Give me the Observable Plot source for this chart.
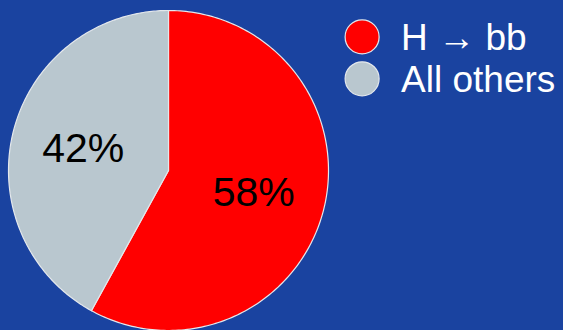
<!DOCTYPE html>
<html><head><meta charset="utf-8">
<script src="https://cdn.jsdelivr.net/npm/d3@7"></script>
<script src="https://cdn.jsdelivr.net/npm/@observablehq/plot@0.6"></script>
<style>
html,body{margin:0;padding:0;background:#1a43a0;overflow:hidden;}
</style></head><body><div id="chart"></div>
<script>
const categories = ["H \u2192 bb", "All others"];
const shares = [58, 42];
const labels = ["58%", "42%"];
const colors = ["#ff0000", "#b9c7cf"];

const arcs = d3.pie().sort(null).startAngle(0).endAngle(2 * Math.PI)(shares);
const poly = [];
arcs.forEach((a, i) => {
  poly.push({cat: categories[i], x: 0, y: 0});
  const n = 200;
  for (let k = 0; k <= n; k++) {
    const t = a.startAngle + (a.endAngle - a.startAngle) * k / n;
    poly.push({cat: categories[i], x: Math.sin(t), y: Math.cos(t)});
  }
});
const lab = arcs.map((a, i) => {
  const m = (a.startAngle + a.endAngle) / 2;
  return {label: labels[i], x: 0.55 * Math.sin(m), y: 0.55 * Math.cos(m)};
});
const leg = categories.map((c, i) => ({cat: c, x: 1.21, y: 0.835 - i * 0.262}));

const chart = Plot.plot({
  width: 563, height: 330,
  margin: 0,
  style: {background: "transparent", fontFamily: "Liberation Sans, Arial, sans-serif"},
  x: {domain: [-1, 1], range: [8, 328], axis: null},
  y: {domain: [-1, 1], range: [330, 10], axis: null},
  color: {domain: categories, range: colors},
  marks: [
    Plot.line(poly, {x: "x", y: "y", z: "cat", fill: "cat", stroke: "#e4e8ec", strokeWidth: 1.2, curve: "linear-closed"}),
    Plot.text(lab, {x: "x", y: "y", text: "label", fontSize: 41, fill: "black"}),
    Plot.dot(leg, {x: "x", y: "y", r: 17, fill: "cat", stroke: "#e4e8ec", strokeWidth: 1.2}),
    Plot.text(leg, {x: "x", y: "y", text: "cat", dx: 39, dy: 1, textAnchor: "start", fontSize: 37, fill: "white"})
  ]
});
document.getElementById("chart").appendChild(chart);
</script></body></html>
